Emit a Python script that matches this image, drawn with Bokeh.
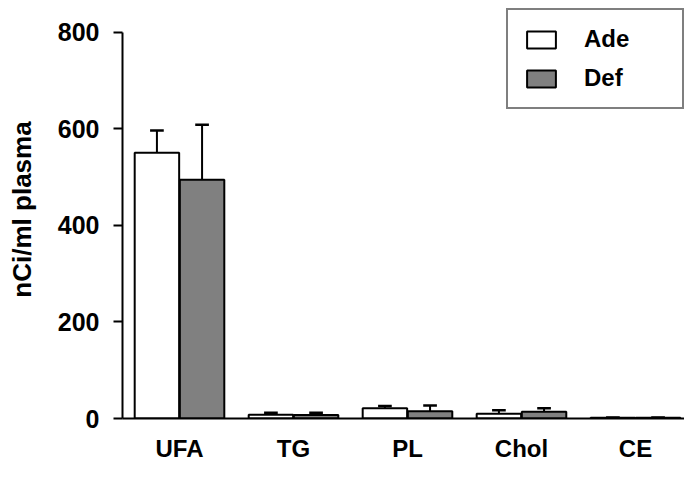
from bokeh.plotting import figure
from bokeh.models import ColumnDataSource, Range1d, Legend, LegendItem, FixedTicker
from bokeh.embed import file_html
from bokeh.resources import INLINE

categories = ["UFA", "TG", "PL", "Chol", "CE"]
ade_values = [551, 8, 21, 10, 1.5]
ade_errors = [46, 4, 5, 7, 0.5]
def_values = [495, 7, 15, 14, 1.5]
def_errors = [114, 5, 12, 7, 0.5]
y_ticks = [0, 200, 400, 600, 800]

FONT = "Liberation Sans"

centers = [i + 0.5 for i in range(len(categories))]

# frame spans the full canvas top so that the legend (above the 800 tick) is not clipped
p = figure(width=684, height=464, x_range=Range1d(0, 4.93),
           y_range=Range1d(0, 866.3), output_backend="svg", toolbar_location=None,
           min_border_left=122, min_border_right=0, min_border_top=0, min_border_bottom=46)
p.xgrid.grid_line_color = None
p.ygrid.grid_line_color = None
p.outline_line_color = None
p.background_fill_color = "white"

off = 0.198
bw = 0.39
cap = 0.12

ade_x = [c - off for c in centers]
def_x = [c + off for c in centers]
src = ColumnDataSource(dict(
    ade_x=ade_x, def_x=def_x,
    ade=ade_values, ade_top=[v + e for v, e in zip(ade_values, ade_errors)],
    dfv=def_values, def_top=[v + e for v, e in zip(def_values, def_errors)],
    ade_c0=[x - cap / 2 for x in ade_x], ade_c1=[x + cap / 2 for x in ade_x],
    def_c0=[x - cap / 2 for x in def_x], def_c1=[x + cap / 2 for x in def_x],
))

for xc, v, t, c0, c1 in (("ade_x", "ade", "ade_top", "ade_c0", "ade_c1"),
                         ("def_x", "dfv", "def_top", "def_c0", "def_c1")):
    p.segment(x0=xc, y0=v, x1=xc, y1=t, source=src, line_color="black", line_width=2)
    p.segment(x0=c0, y0=t, x1=c1, y1=t, source=src, line_color="black", line_width=2.5)

r_ade = p.vbar(x="ade_x", top="ade", width=bw, bottom=0, source=src,
               fill_color="white", line_color="black", line_width=2)
r_def = p.vbar(x="def_x", top="dfv", width=bw, bottom=0, source=src,
               fill_color="#808080", line_color="black", line_width=2)

# y axis
p.yaxis.ticker = FixedTicker(ticks=y_ticks)
p.yaxis.bounds = (y_ticks[0], y_ticks[-1])
p.yaxis.minor_tick_line_color = None
p.yaxis.major_tick_out = 9
p.yaxis.major_tick_in = 0
p.yaxis.major_tick_line_width = 2
p.yaxis.axis_line_width = 2
p.yaxis.major_label_standoff = 14
p.yaxis.major_label_text_font = FONT
p.yaxis.major_label_text_font_style = "bold"
p.yaxis.major_label_text_font_size = "25px"
p.yaxis.major_label_text_color = "black"
p.yaxis.axis_label = "nCi/ml plasma"
p.yaxis.axis_label_text_font = FONT
p.yaxis.axis_label_text_font_style = "bold"
p.yaxis.axis_label_text_font_size = "26px"
p.yaxis.axis_label_text_color = "black"
p.yaxis.axis_label_standoff = 18

# x axis
p.xaxis.ticker = FixedTicker(ticks=centers)
p.xaxis.major_label_overrides = {c: lab for c, lab in zip(centers, categories)}
p.xaxis.major_tick_line_color = None
p.xaxis.major_tick_out = 0
p.xaxis.major_tick_in = 0
p.xaxis.minor_tick_line_color = None
p.xaxis.axis_line_width = 2
p.xaxis.major_label_standoff = 16
p.xaxis.major_label_text_font = FONT
p.xaxis.major_label_text_font_style = "bold"
p.xaxis.major_label_text_font_size = "24px"
p.xaxis.major_label_text_color = "black"

legend = Legend(items=[LegendItem(label="Ade", renderers=[r_ade]),
                       LegendItem(label="Def", renderers=[r_def])],
                location=(384, 309))
legend.border_line_color = "black"
legend.border_line_width = 2
legend.label_text_font = FONT
legend.label_text_font_style = "bold"
legend.label_text_font_size = "24px"
legend.label_text_color = "black"
legend.glyph_width = 36
legend.glyph_height = 21
legend.label_height = 21
legend.label_width = 83
legend.label_standoff = 25
legend.spacing = 11
legend.padding = 15
legend.margin = 0
legend.background_fill_alpha = 1
p.add_layout(legend, "center")

open("out.html", "w").write(file_html(p, INLINE))
